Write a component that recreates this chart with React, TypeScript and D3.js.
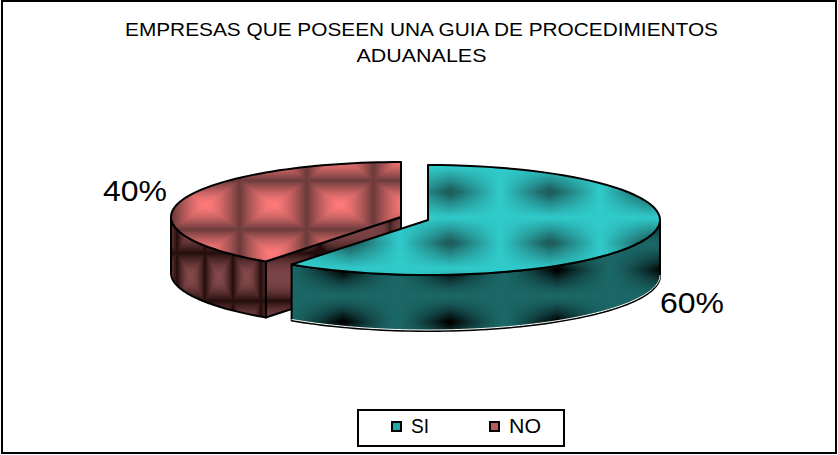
import React, { useMemo } from "react";
import * as d3 from "d3";

const categories = ["SI", "NO"];
const values = [60, 40];
const labels = ["60%", "40%"];
const titleLines = ["EMPRESAS QUE POSEEN UNA GUIA DE PROCEDIMIENTOS", "ADUANALES"];

const W = 838, H = 455;
const radiiX = [232, 230];
const RY = 55, DEPTH = 56;
const centers = [{ x: 428, y: 220 }, { x: 401, y: 217 }];
const FONT = "'Liberation Sans', Arial, sans-serif";

type Fn = (u: number, v: number) => number; // u,v in [0,1], distance from the tile centre; returns mix 0..1
const star: Fn = (u, v) => (1 - u) * (1 - v);
const rect: Fn = (u, v) => Math.max(u, v);

function tile(w: number, h: number, from: string, to: string, fn: Fn): string {
  const c = document.createElement("canvas");
  c.width = w; c.height = h;
  const ctx = c.getContext("2d")!;
  const mix = d3.interpolateRgb(from, to);
  for (let y = 0; y < h; y++) for (let x = 0; x < w; x++) {
    const u = Math.abs((x + 0.5) / w - 0.5) * 2;
    const v = Math.abs((y + 0.5) / h - 0.5) * 2;
    ctx.fillStyle = mix(Math.min(1, Math.max(0, fn(u, v))));
    ctx.fillRect(x, y, 1, 1);
  }
  return c.toDataURL();
}

const patterns = [
  { id: "siTop", x: 400, y: 166.5, w: 100, h: 51, from: "#30caca", to: "#1e6060", fn: ((u, v) => Math.pow(star(u, v), 1.05) * 1.15) as Fn },
  { id: "siSide", x: 289.5, y: 296, w: 107, h: 52, from: "#1b6666", to: "#000000", fn: ((u, v) => Math.pow(star(u, v), 1.5) * 1.1) as Fn },
  { id: "noTop", x: 239.5, y: 180.5, w: 67, h: 49, from: "#ff7a7a", to: "#6a3a3a", fn: ((u, v) => Math.pow(rect(u, v), 1.5)) as Fn },
  { id: "noSide", x: 177, y: 253, w: 28, h: 48, from: "#84494a", to: "#230c0c", fn: ((u, v) => Math.pow(rect(u, v), 1.8)) as Fn },
  { id: "noCut", x: 250, y: 253, w: 70, h: 48, from: "#7a4345", to: "#220c0c", fn: ((u, v) => Math.pow(v, 2.5) + Math.pow(u, 8) * 0.7) as Fn },
];

const pie = d3.pie<number>().sort(null).startAngle(0).endAngle(2 * Math.PI);
const line = d3.line<[number, number]>();

export default function App() {
  const arcs = pie(values);
  const textures = useMemo(() => patterns.map(p => tile(p.w, p.h, p.from, p.to, p.fn)), []);

  const pt = (i: number, a: number, dz = 0): [number, number] => [
    centers[i].x + radiiX[i] * Math.sin(a),
    centers[i].y - RY * Math.cos(a) + dz,
  ];
  const arcPts = (i: number, a0: number, a1: number, dz = 0) =>
    d3.range(0, 73).map(k => pt(i, a0 + ((a1 - a0) * k) / 72, dz));
  const top = (i: number) => {
    const a = arcs[i];
    return line([[centers[i].x, centers[i].y], ...arcPts(i, a.startAngle, a.endAngle)])! + "Z";
  };
  const outer = (i: number) => {
    const a = arcs[i];
    const a0 = Math.max(a.startAngle, Math.PI / 2);
    const a1 = Math.min(a.endAngle, (3 * Math.PI) / 2);
    return line([...arcPts(i, a0, a1), ...arcPts(i, a1, a0, DEPTH)])! + "Z";
  };
  const bottomEdge = (i: number) => {
    const a = arcs[i];
    return line(arcPts(i, Math.max(a.startAngle, Math.PI / 2), Math.min(a.endAngle, (3 * Math.PI) / 2), DEPTH))!;
  };
  const cut = (i: number) => {
    const a = arcs[i].startAngle;
    const c: [number, number] = [centers[i].x, centers[i].y];
    return line([c, pt(i, a), pt(i, a, DEPTH), [c[0], c[1] + DEPTH]])! + "Z";
  };

  return (
    <svg width={W} height={H} style={{ position: "absolute", left: 0, top: 0, background: "#fff" }} fontFamily={FONT}>
      <defs>
        {patterns.map((p, i) => (
          <pattern key={p.id} id={p.id} patternUnits="userSpaceOnUse" x={p.x} y={p.y} width={p.w} height={p.h}>
            <image href={textures[i]} width={p.w} height={p.h} />
          </pattern>
        ))}
      </defs>
      <rect x={2} y={1} width={834} height={452} fill="#fff" stroke="#000" strokeWidth={2} />

      {titleLines.map((t, i) => (
        <text key={t} x={421.5} y={36 + i * 26} textAnchor="middle" fontSize={19}
          textLength={[593, 130][i]} lengthAdjust="spacingAndGlyphs" fill="#000">{t}</text>
      ))}

      {/* NO slice */}
      <g stroke="#000" strokeWidth={2} strokeLinejoin="round">
        <path d={cut(1)} fill="url(#noCut)" />
        <path d={outer(1)} fill="url(#noSide)" />
        <path d={top(1)} fill="url(#noTop)" />
      </g>
      {/* SI slice */}
      <g stroke="#000" strokeWidth={2} strokeLinejoin="round">
        <path d={outer(0)} fill="url(#siSide)" />
        <path d={bottomEdge(0)} fill="none" stroke="#fff" strokeWidth={1} transform="translate(0,-1)" />
        <path d={top(0)} fill="url(#siTop)" />
      </g>

      <text x={660} y={313} fontSize={29.5} textLength={64} lengthAdjust="spacingAndGlyphs" fill="#000">{labels[0]}</text>
      <text x={103} y={201} fontSize={29.5} textLength={64} lengthAdjust="spacingAndGlyphs" fill="#000">{labels[1]}</text>

      <rect x={358} y={410} width={206} height={36} fill="#fff" stroke="#000" strokeWidth={2} />
      {categories.map((c, i) => {
        const x = [392, 490][i];
        return (
          <g key={c}>
            <rect x={x} y={422} width={9} height={9} fill={i === 0 ? "#27a6a6" : "#b85a5a"} stroke="#000" strokeWidth={2} />
            <text x={x + 19} y={433} fontSize={20} textLength={[18, 32][i]} lengthAdjust="spacingAndGlyphs" fill="#000">{c}</text>
          </g>
        );
      })}
    </svg>
  );
}
